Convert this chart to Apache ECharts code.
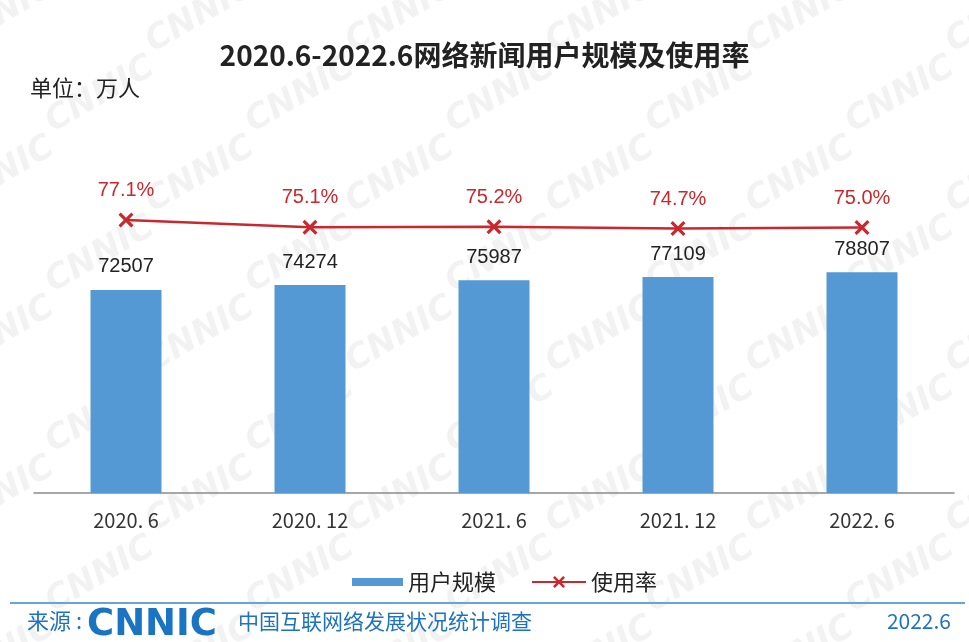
<!DOCTYPE html>
<html>
<head>
<meta charset="utf-8">
<script src="https://cdn.jsdelivr.net/npm/echarts@6/dist/echarts.min.js"></script>
<style>
  html, body { margin: 0; padding: 0; background: #fff; }
  #chart { width: 969px; height: 642px; }
</style>
</head>
<body>
<div id="chart"></div>
<script>
const periods = ['2020. 6', '2020. 12', '2021. 6', '2021. 12', '2022. 6']
const users = [72507, 74274, 75987, 77109, 78807]
const rates = [77.1, 75.1, 75.2, 74.7, 75.0]

const red = '#c8282e'
const blue = '#5599d4'
const footBlue = '#1f73bd'
const cjk = '"Noto Sans CJK SC", sans-serif'

// X shaped marker
const crossPath = 'path://M0,1.5 L1.5,0 L5,3.5 L8.5,0 L10,1.5 L6.5,5 L10,8.5 L8.5,10 L5,6.5 L1.5,10 L0,8.5 L3.5,5 Z'

// watermark "CNNIC" pattern
const marks = []
for (let r = 0; r < 9; r++) {
  for (let c = 0; c < 6; c++) {
    marks.push({
      type: 'text',
      x: c * 200 - 60 + (r % 2) * 100,
      y: r * 80 + 30,
      rotation: Math.PI / 6,
      silent: true,
      z: -10,
      style: {
        text: 'CNNIC',
        fill: 'rgba(0,0,0,0.05)',
        font: 'italic bold 34px "DejaVu Sans", sans-serif',
      },
    })
  }
}

const chart = echarts.init(document.getElementById('chart'))
const option = {
  backgroundColor: '#fff',
  animation: false,
  title: {
    text: '2020.6-2022.6网络新闻用户规模及使用率',
    left: 'center',
    top: 36,
    textStyle: { fontFamily: cjk, fontWeight: 'bold', fontSize: 28, color: '#222' },
  },
  legend: [
    {
      data: [{ name: '用户规模', icon: 'rect' }],
      left: 347,
      top: 566,
      itemWidth: 51,
      itemHeight: 8,
      itemGap: 8,
      textStyle: { fontFamily: cjk, fontSize: 22, color: '#222' },
    },
    {
      data: ['使用率'],
      left: 526,
      top: 566,
      itemWidth: 54,
      itemHeight: 15,
      textStyle: { fontFamily: cjk, fontSize: 22, color: '#222' },
    },
  ],
  grid: { left: 34, right: 15, top: 139, bottom: 149 },
  xAxis: {
    type: 'category',
    data: periods,
    axisLine: { lineStyle: { color: '#8a8a8a', width: 1.5 } },
    axisTick: { inside: true, length: 6, lineStyle: { color: '#8a8a8a' } },
    axisLabel: { fontFamily: cjk, fontSize: 20, color: '#333', margin: 17 },
  },
  yAxis: [
    { type: 'value', min: 0, max: 126400, show: false, splitLine: { show: false } },
    { type: 'value', min: 0, max: 100, show: false, splitLine: { show: false } },
  ],
  graphic: marks.concat([
    {
      type: 'text', left: 30, top: 77,
      style: { text: '单位：万人', fill: '#222', font: '22px "Noto Sans CJK SC", sans-serif' },
    },
    {
      type: 'rect', shape: { x: 10, y: 602, width: 955, height: 2 },
      style: { fill: '#6aa3d8' },
    },
    {
      type: 'text', left: 27, top: 610,
      style: { text: '来源 :', fill: footBlue, font: '22px "Noto Sans CJK SC", sans-serif' },
    },
    {
      type: 'text', left: 87, top: 607,
      style: { text: 'CNNIC', fill: '#1a74c4', font: 'bold 37px "DejaVu Sans", sans-serif' },
    },
    {
      type: 'text', left: 238, top: 611,
      style: { text: '中国互联网络发展状况统计调查', fill: footBlue, font: '21px "Noto Sans CJK SC", sans-serif' },
    },
    {
      type: 'text', right: 18, top: 611,
      style: { text: '2022.6', fill: footBlue, font: '21px "Noto Sans CJK SC", sans-serif' },
    },
  ]),
  series: [
    {
      name: '用户规模',
      type: 'bar',
      data: users,
      barWidth: 71,
      itemStyle: { color: blue },
      label: {
        show: true,
        position: 'top',
        distance: 13,
        fontFamily: 'Liberation Sans, Arial, sans-serif',
        fontSize: 20,
        color: '#222',
      },
    },
    {
      name: '使用率',
      type: 'line',
      yAxisIndex: 1,
      data: rates,
      symbol: crossPath,
      symbolSize: 15,
      lineStyle: { color: red, width: 2.5 },
      itemStyle: { color: red },
      label: {
        show: true,
        position: 'top',
        distance: 12,
        formatter: (p) => p.value.toFixed(1) + '%',
        fontFamily: 'Liberation Sans, Arial, sans-serif',
        fontSize: 20,
        color: red,
      },
    },
  ],
}
chart.setOption(option)
</script>
</body>
</html>
